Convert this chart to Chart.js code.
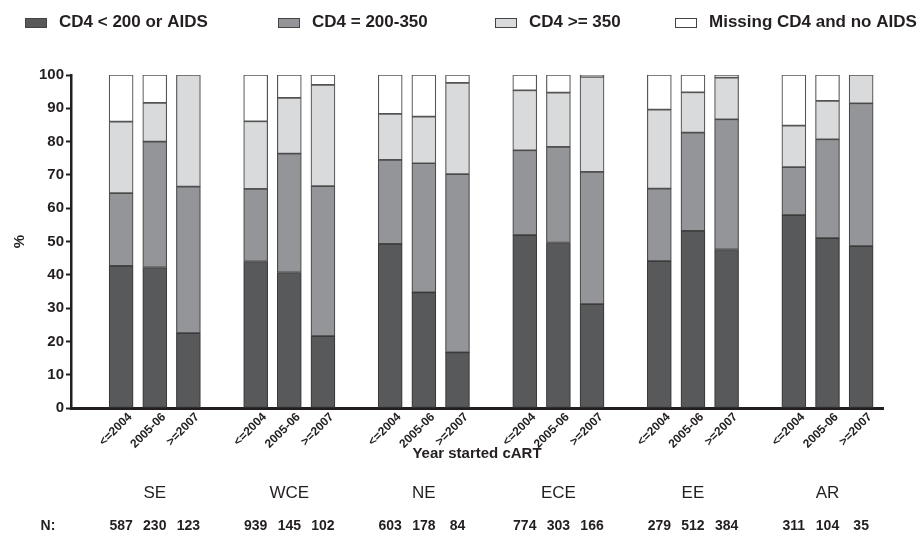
<!DOCTYPE html>
<html>
<head>
<meta charset="utf-8">
<script src="https://cdn.jsdelivr.net/npm/chart.js@4/dist/chart.umd.min.js"></script>
<style>
    html, body { margin: 0; padding: 0; background: #fff; }
    #wrap { width: 917px; height: 543px; }
</style>
</head>
<body>
<div id="wrap"><canvas id="cd4Chart" width="917" height="543"></canvas></div>
<script>
// Data
const years = ['<=2004', '2005-06', '>=2007'];
const regions = ['SE', 'WCE', 'NE', 'ECE', 'EE', 'AR'];
const patientCounts = [
    [587, 230, 123], [939, 145, 102], [603, 178, 84],
    [774, 303, 166], [279, 512, 384], [311, 104, 35]
];

// % of patients, bar order: region by region, years inside
const cd4Low = [42.7, 42.2, 22.5, 44.0, 40.7, 21.6, 49.3, 34.7, 16.7, 51.9, 49.7, 31.2, 44.1, 53.2, 47.6, 57.9, 51.0, 48.6];
const cd4Mid = [21.8, 37.8, 44.0, 21.8, 35.7, 45.0, 25.2, 38.8, 53.5, 25.5, 28.7, 39.7, 21.8, 29.5, 39.1, 14.4, 29.7, 42.9];
const cd4High = [21.5, 11.6, 33.5, 20.3, 16.7, 30.4, 13.8, 14.0, 27.4, 18.0, 16.3, 28.5, 23.7, 12.1, 12.5, 12.5, 11.5, 8.5];
const cd4Missing = [14.0, 8.4, 0, 13.9, 6.9, 3.0, 11.7, 12.5, 2.4, 4.6, 5.3, 0.6, 10.4, 5.2, 0.8, 15.2, 7.8, 0];

const seriesNames = ['CD4 < 200 or AIDS', 'CD4 = 200-350', 'CD4 >= 350', 'Missing CD4 and no AIDS'];
const yTicks = [0, 10, 20, 30, 40, 50, 60, 70, 80, 90, 100];

const fontFam = "'Liberation Sans', Arial, sans-serif";
const ink = '#231f20';

// each region takes 3 slots + 1 empty slot
const slotOf = i => Math.floor(i / 3) * 4 + (i % 3);
const slots = cd4Low.map((v, i) => slotOf(i));

function toPoints(arr) {
    return arr.map((v, i) => ({ x: slots[i], y: v }));
}

// legend drawn by hand so spacing matches
const legendX = [25, 278, 495, 675];
const legendPlugin = {
    id: 'topLegend',
    afterDraw(chart) {
        const c = chart.ctx;
        c.save();
        c.font = 'bold 17px ' + fontFam;
        c.textBaseline = 'middle';
        chart.data.datasets.forEach((ds, i) => {
            const x = legendX[i];
            c.fillStyle = ds.backgroundColor;
            c.fillRect(x, 18, 22, 10);
            c.strokeStyle = '#444';
            c.lineWidth = 1;
            c.strokeRect(x + 0.5, 18.5, 21, 9);
            c.fillStyle = ink;
            c.fillText(ds.label, x + 34, 22);
        });
        c.restore();
    }
};

// region names and N under the axis
const regionPlugin = {
    id: 'regionLabels',
    afterDraw(chart) {
        const c = chart.ctx;
        const xs = chart.scales.x;
        const base = chart.chartArea.bottom;
        c.save();
        c.fillStyle = ink;
        c.textAlign = 'center';
        c.textBaseline = 'middle';
        regions.forEach((r, g) => {
            c.font = '17px ' + fontFam;
            c.fillText(r, xs.getPixelForValue(g * 4 + 1), base + 85);
            c.font = 'bold 14px ' + fontFam;
            patientCounts[g].forEach((n, k) => {
                c.fillText(String(n), xs.getPixelForValue(g * 4 + k), base + 118);
            });
        });
        c.font = 'bold 14px ' + fontFam;
        c.fillText('N:', 48, base + 118);
        c.restore();
    }
};

const fills = ['#58595b', '#949599', '#d9dadc', '#ffffff'];
const edges = ['#3a3a3a', '#4a4a4a', '#555555', '#555555'];
const values = [cd4Low, cd4Mid, cd4High, cd4Missing];

new Chart(document.getElementById('cd4Chart').getContext('2d'), {
    type: 'bar',
    data: {
        datasets: values.map((arr, i) => ({
            label: seriesNames[i],
            data: toPoints(arr),
            backgroundColor: fills[i],
            borderColor: edges[i],
            borderWidth: 1.2,
            borderSkipped: false,
            barThickness: 24
        }))
    },
    options: {
        responsive: false,
        animation: false,
        layout: { padding: { top: 75, left: 8, right: 34, bottom: 80 } },
        plugins: {
            legend: { display: false },
            tooltip: { enabled: false }
        },
        scales: {
            x: {
                type: 'linear',
                stacked: true,
                offset: false,
                min: -1.49,
                max: 22.65,
                afterBuildTicks: s => { s.ticks = slots.map(v => ({ value: v })); },
                afterFit: s => { s.height = 55; },
                grid: { display: false },
                border: { display: true, color: ink, width: 3 },
                ticks: {
                    autoSkip: false,
                    minRotation: 45,
                    maxRotation: 45,
                    padding: -6,
                    labelOffset: 9,
                    color: ink,
                    font: { family: fontFam, size: 12, weight: 'bold' },
                    callback: v => years[v % 4]
                },
                title: {
                    display: true,
                    text: 'Year started cART',
                    color: ink,
                    padding: { top: 0, bottom: 0 },
                    font: { family: fontFam, size: 15, weight: 'bold' }
                }
            },
            y: {
                stacked: true,
                min: 0,
                max: 100,
                afterBuildTicks: s => { s.ticks = yTicks.map(v => ({ value: v })); },
                afterFit: s => { s.width = 63; },
                grid: { drawOnChartArea: false, drawTicks: true, tickLength: 5, tickWidth: 2, color: ink },
                border: { display: true, color: ink, width: 2.5 },
                ticks: {
                    padding: 2,
                    color: ink,
                    font: { family: fontFam, size: 15, weight: 'bold' }
                },
                title: {
                    display: true,
                    text: '%',
                    color: ink,
                    padding: { top: 3, bottom: 0 },
                    font: { family: fontFam, size: 15, weight: 'bold' }
                }
            }
        }
    },
    plugins: [legendPlugin, regionPlugin]
});
</script>
</body>
</html>
